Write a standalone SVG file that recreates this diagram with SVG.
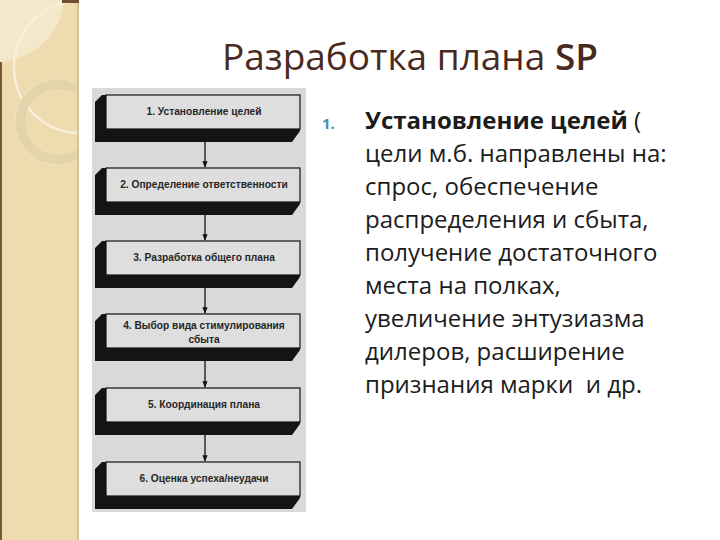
<svg xmlns="http://www.w3.org/2000/svg" width="720" height="540" viewBox="0 0 720 540">
<defs>
<style>
.slab{fill:#141414}
.face{fill:#dedede;stroke:#111;stroke-width:1.2}
.lbl{font-family:"Liberation Sans",Arial,sans-serif;font-size:10.2px;font-weight:bold;fill:#262626;text-anchor:middle}
.body{font-family:"Open Sans","Noto Sans",sans-serif;font-size:24px;fill:#1c1c1c}
.conn{stroke:#111;stroke-width:1.3;fill:none;marker-end:url(#ah)}
</style>
<marker id="ah" viewBox="0 0 10 10" refX="9" refY="5" markerWidth="5" markerHeight="5" orient="auto" markerUnits="strokeWidth">
<path d="M0,1 L10,5 L0,9 Z" fill="#111"/>
</marker>
<clipPath id="strip"><rect x="0" y="0" width="79" height="540"/></clipPath>
</defs>
<rect width="720" height="540" fill="#ffffff"/>
<g id="side-strip" clip-path="url(#strip)">
<rect x="0" y="0" width="79" height="540" fill="#eedcb0"/>
<path d="M0,0 L64,0 Q58,52 0,63 Z" fill="#f4e8cb"/>
<circle cx="80" cy="67" r="66" fill="none" stroke="#f8efda" stroke-width="2.5"/>
<circle cx="58" cy="122" r="38" fill="none" stroke="#e4d4ab" stroke-width="10"/>
<circle cx="58" cy="122" r="43" fill="none" stroke="#f2e4c0" stroke-width="1"/>
<rect x="0" y="62" width="2" height="478" fill="#7a5a38"/>
<rect x="77" y="0" width="2" height="540" fill="#d8c193"/>
<rect x="62" y="0" width="17" height="3" fill="#6e4e2e"/>
</g>
<text id="title" x="222" y="70" font-family="'Open Sans','Noto Sans',sans-serif" font-size="36" fill="#4a2a1e" textLength="376" lengthAdjust="spacingAndGlyphs">Разработка плана <tspan font-weight="600">SP</tspan></text>
<rect id="scan-bg" x="92" y="88" width="214" height="424" fill="#d9d9d9"/>
<g id="connectors">
<line class="conn" x1="205" y1="142" x2="205" y2="167"/>
<line class="conn" x1="205" y1="215" x2="205" y2="240"/>
<line class="conn" x1="205" y1="288" x2="205" y2="313"/>
<line class="conn" x1="205" y1="361" x2="205" y2="387"/>
<line class="conn" x1="205" y1="435" x2="205" y2="461"/>
</g>
<g id="step1" transform="translate(0,95)">
<polygon class="slab" points="95,7 102,0 106,0 106,34 300,34 300,36 292,47 95,47"/>
<rect class="face" x="106" y="0" width="194" height="34"/>
<text class="lbl" x="204" y="20">1. Установление целей</text>
</g>
<g id="step2" transform="translate(0,168)">
<polygon class="slab" points="95,7 102,0 106,0 106,34 300,34 300,36 292,47 95,47"/>
<rect class="face" x="106" y="0" width="194" height="34"/>
<text class="lbl" x="204" y="20">2. Определение ответственности</text>
</g>
<g id="step3" transform="translate(0,241)">
<polygon class="slab" points="95,7 102,0 106,0 106,34 300,34 300,36 292,47 95,47"/>
<rect class="face" x="106" y="0" width="194" height="34"/>
<text class="lbl" x="204" y="20">3. Разработка общего плана</text>
</g>
<g id="step4" transform="translate(0,314)">
<polygon class="slab" points="95,7 102,0 106,0 106,34 300,34 300,36 292,47 95,47"/>
<rect class="face" x="106" y="0" width="194" height="34"/>
<text class="lbl" x="204" y="15">4. Выбор вида стимулирования</text>
<text class="lbl" x="204" y="29">сбыта</text>
</g>
<g id="step5" transform="translate(0,388)">
<polygon class="slab" points="95,7 102,0 106,0 106,34 300,34 300,36 292,47 95,47"/>
<rect class="face" x="106" y="0" width="194" height="34"/>
<text class="lbl" x="204" y="20">5. Координация плана</text>
</g>
<g id="step6" transform="translate(0,462)">
<polygon class="slab" points="95,7 102,0 106,0 106,34 300,34 300,36 292,47 95,47"/>
<rect class="face" x="106" y="0" width="194" height="34"/>
<text class="lbl" x="204" y="20">6. Оценка успеха/неудачи</text>
</g>
<g id="list">
<text x="322" y="129" font-family="'Open Sans','Noto Sans',sans-serif" font-size="15" font-weight="bold" fill="#4a8eab">1.</text>
<text class="body" x="365" y="129"><tspan font-weight="bold">Установление целей</tspan> (</text>
<text class="body" x="365" y="162">цели м.б. направлены на:</text>
<text class="body" x="365" y="195">спрос, обеспечение</text>
<text class="body" x="365" y="228">распределения и сбыта,</text>
<text class="body" x="365" y="261">получение достаточного</text>
<text class="body" x="365" y="294">места на полках,</text>
<text class="body" x="365" y="327">увеличение энтузиазма</text>
<text class="body" x="365" y="360">дилеров, расширение</text>
<text class="body" x="365" y="393" xml:space="preserve">признания марки  и др.</text>
</g>
</svg>
